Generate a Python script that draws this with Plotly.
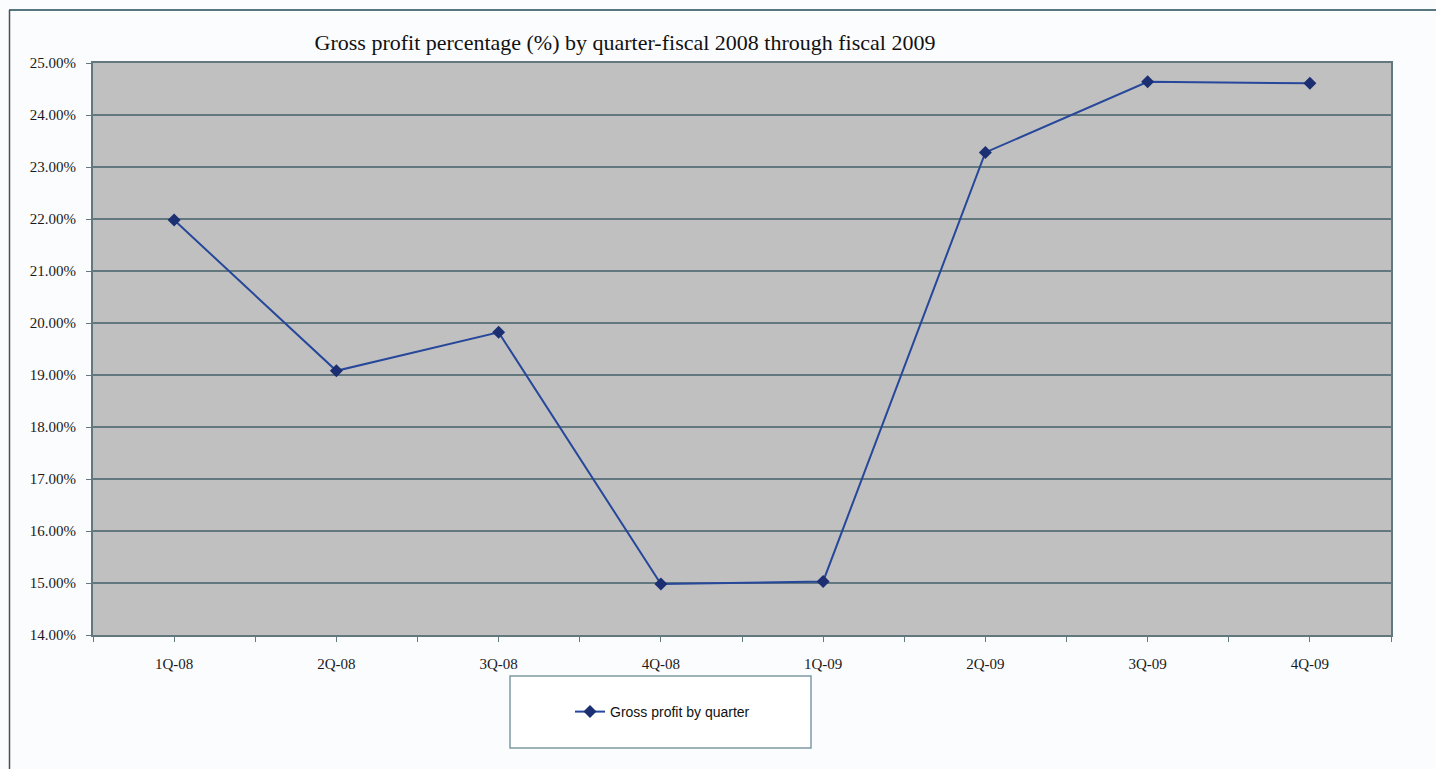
import plotly.graph_objects as go

# Quarterly gross profit percentage, fiscal 2008 - fiscal 2009
quarters = ["1Q-08", "2Q-08", "3Q-08", "4Q-08", "1Q-09", "2Q-09", "3Q-09", "4Q-09"]
gross_profit_pct = [21.98, 19.08, 19.82, 14.98, 15.03, 23.28, 24.64, 24.61]
y_ticks = [14, 15, 16, 17, 18, 19, 20, 21, 22, 23, 24, 25]
y_tick_labels = [f"{v:.2f}%" for v in y_ticks]

W, H = 1436, 769
L, R, T, B = 93, 45, 63, 134
pw, ph = W - L - R, H - T - B


def px_x(x):
    return (x - L) / pw


def px_y(y):
    return (H - B - y) / ph


serif = "Liberation Serif, Times New Roman, serif"
grid_col = "#62787e"

fig = go.Figure()
fig.add_trace(go.Scatter(
    x=list(range(len(quarters))),
    y=gross_profit_pct,
    mode="lines+markers",
    name="Gross profit by quarter",
    line=dict(color="#26479a", width=2),
    marker=dict(symbol="diamond", size=10, color="#1b2f72"),
))

shapes = [
    # legend box
    dict(type="rect", xref="paper", yref="paper",
         x0=px_x(510), x1=px_x(811), y0=px_y(748), y1=px_y(676),
         line=dict(color="#7f9aa2", width=1.5), fillcolor="#ffffff", layer="below"),
    # outer frame (top and left edges)
    dict(type="line", xref="paper", yref="paper",
         x0=px_x(9), x1=px_x(1436), y0=px_y(10), y1=px_y(10),
         line=dict(color="#1f4b55", width=1.5)),
    dict(type="line", xref="paper", yref="paper",
         x0=px_x(9.5), x1=px_x(9.5), y0=px_y(10), y1=px_y(769),
         line=dict(color="#4a4f5a", width=1.5)),
]

fig.update_layout(
    width=W, height=H,
    margin=dict(l=L, r=R, t=T, b=B),
    paper_bgcolor="#fbfcfe",
    plot_bgcolor="#c0c0c0",
    title=dict(
        text="Gross profit percentage (%) by quarter-fiscal 2008 through fiscal 2009",
        x=px_x(625), xanchor="center", xref="paper",
        y=1 - 42 / H, yanchor="middle", yref="container",
        font=dict(family=serif, size=22, color="#111111"),
    ),
    xaxis=dict(
        range=[-0.5, len(quarters) - 0.5],
        tickvals=list(range(len(quarters))),
        ticktext=quarters,
        ticks="outside", ticklen=5, tickwidth=1, tickcolor=grid_col,
        minor=dict(dtick=0.5, tick0=0.5, ticks="outside", ticklen=5, tickcolor=grid_col),
        showgrid=False, zeroline=False,
        showline=True, linecolor=grid_col, linewidth=2, mirror=True,
        tickfont=dict(family=serif, size=15, color="#1a1a1a"),
        ticklabelstandoff=9,
    ),
    yaxis=dict(
        range=[14, 25],
        tickvals=y_ticks,
        ticktext=y_tick_labels,
        ticks="outside", ticklen=5, tickwidth=1, tickcolor=grid_col,
        showgrid=True, gridcolor=grid_col, gridwidth=1.5,
        zeroline=False,
        showline=True, linecolor=grid_col, linewidth=2, mirror=True,
        tickfont=dict(family=serif, size=15, color="#1a1a1a"),
        ticklabelstandoff=7,
    ),
    showlegend=True,
    legend=dict(
        x=px_x(570), y=px_y(712), xanchor="left", yanchor="middle",
        bgcolor="rgba(0,0,0,0)", borderwidth=0,
        font=dict(family="Liberation Sans, Arial, sans-serif", size=14, color="#111111"),
        itemwidth=30,
    ),
    shapes=shapes,
)

fig.write_html("out.html")
